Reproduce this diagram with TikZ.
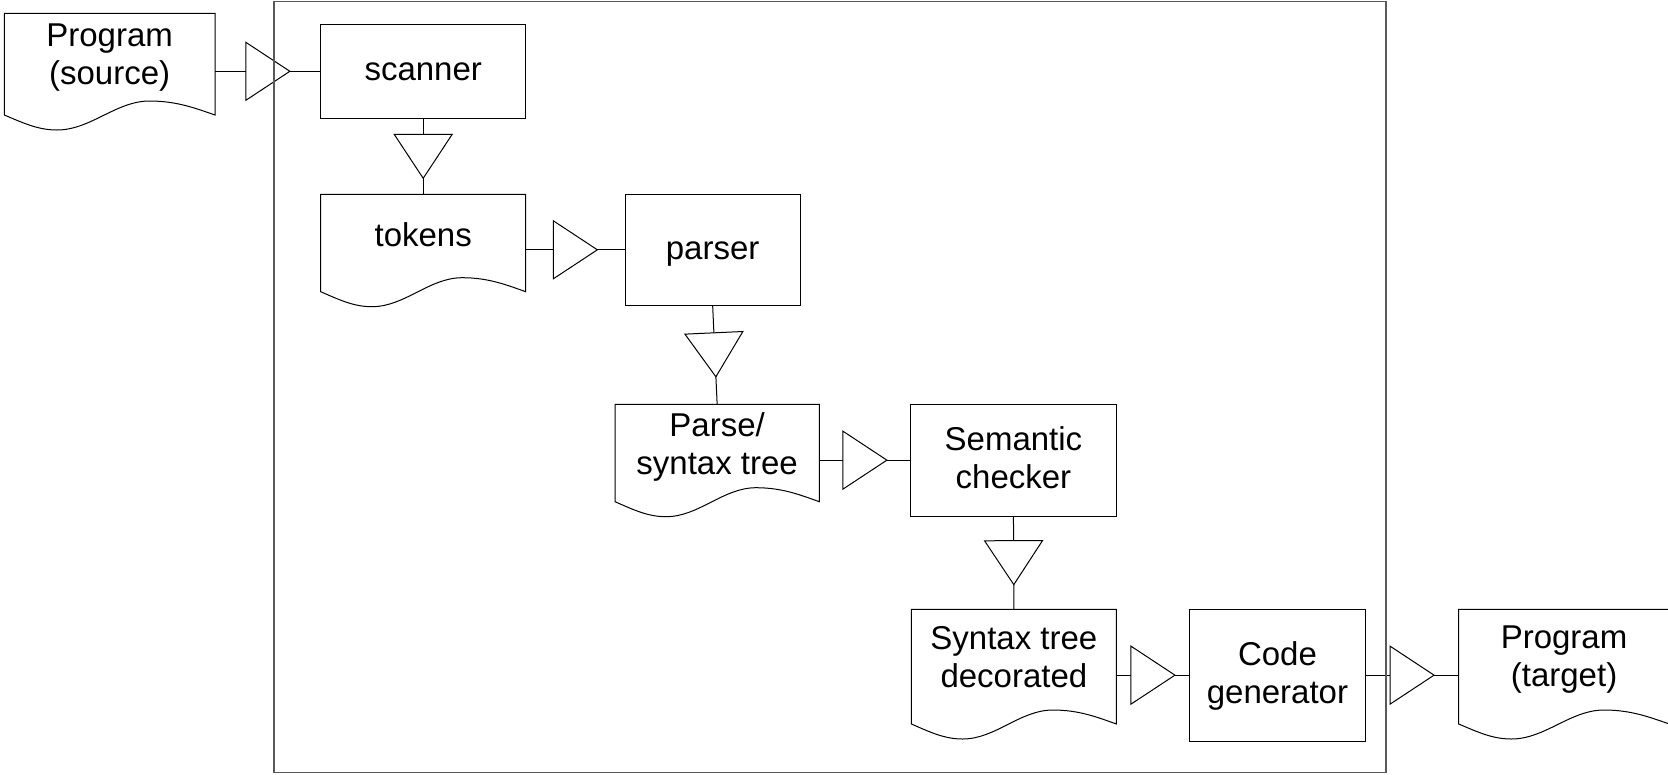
\documentclass[tikz,border=0pt]{standalone}
\usepackage{fontspec}
\setmainfont{Liberation Sans}
\usetikzlibrary{calc}
\newcommand\ls{\rule[-9.5pt]{0pt}{38pt}}
\tikzset{
  every node/.style={inner sep=0pt, outer sep=0pt},
  txt/.style={font=\fontsize{33}{38}\selectfont, align=center},
  procbox/.style={draw, line width=1pt, txt},
  docarea/.style={},
  wire/.style={line width=1pt},
  tri/.style={draw, fill=white, line width=1pt, line join=miter},
  frame/.style={draw=black!65, line width=1.5pt}
}
\newcommand\docoutline[1]{%
  \draw[wire, line join=miter]
  (#1.south west) -- (#1.north west) -- (#1.north east) -- (#1.south east)
  .. controls ($(#1.south west)!0.91!(#1.south east)+(0,-6.5)$) and ($(#1.south west)!0.82!(#1.south east)+(0,-14)$) .. ($(#1.south west)!0.69!(#1.south east)+(0,-14)$)
  .. controls ($(#1.south west)!0.53!(#1.south east)+(0,-14)$) and ($(#1.south west)!0.41!(#1.south east)+(0,15)$) .. ($(#1.south west)!0.25!(#1.south east)+(0,15)$)
  .. controls ($(#1.south west)!0.16!(#1.south east)+(0,15)$) and ($(#1.south west)!0.09!(#1.south east)+(0,8)$) .. (#1.south west) -- cycle;}
\newcommand\conn[2]{%
  \coordinate (cA) at #1;
  \coordinate (cB) at #2;
  \draw[wire] (cA) -- (cB);
  \coordinate (cM) at ($(cA)!0.5!(cB)$);
  \coordinate (cS) at ($(cM)!22pt!(cA)$);
  \coordinate (cT) at ($(cM)!22pt!(cB)$);
  \draw[tri] ($(cS)!29pt!90:(cT)$) -- (cT) -- ($(cS)!29pt!-90:(cT)$) -- cycle;}
\begin{document}
\begin{tikzpicture}[x=1pt, y=-1pt]
\useasboundingbox (0,0) rectangle (1668,774);
\clip (0,0) rectangle (1668,774);
\fill[white] (0,0) rectangle (1668,774);
% document shapes (areas)
\node[docarea, minimum width=210.7pt, minimum height=101.7pt] (src) at (109.65,64.15) {};
\node[docarea, minimum width=205pt, minimum height=97.4pt] (tokens) at (423.2,243) {};
\node[docarea, minimum width=204.3pt, minimum height=97.4pt] (parse) at (717.15,453) {};
\node[docarea, minimum width=205pt, minimum height=114.7pt] (dec) at (1013.9,666.65) {};
\node[docarea, minimum width=210.7pt, minimum height=114.7pt] (tgt) at (1564.05,666.65) {};
\docoutline{src}
\docoutline{tokens}
\docoutline{parse}
\docoutline{dec}
\docoutline{tgt}
\node[txt] (srct) at (109.65,56.4) {\ls Program\\\ls (source)};
\node[txt] (tokenst) at (423.2,236.5) {\ls tokens};
\node[txt] (parset) at (717.15,446.3) {\ls Parse/\\\ls syntax tree};
\node[txt] (dect) at (1013.9,658.8) {\ls Syntax tree\\\ls decorated};
\node[txt] (tgtt) at (1564.05,658) {\ls Program\\\ls (target)};
% process boxes
\node[procbox, minimum width=205pt, minimum height=94pt] (scanner) at (423.2,71.3) {\ls scanner};
\node[procbox, minimum width=175.3pt, minimum height=111pt] (parser) at (712.65,249.8) {\ls parser};
\node[procbox, minimum width=205.9pt, minimum height=111.7pt] (sem) at (1013.45,460.15) {\ls Semantic\\\ls checker};
\node[procbox, minimum width=175.9pt, minimum height=131.7pt] (code) at (1277.45,675.15) {\ls Code\\\ls generator};
% connectors
\conn{(src.east |- scanner.west)}{(scanner.west)}
\conn{(scanner.south)}{(tokens.north)}
\conn{(tokens.east |- parser.west)}{(parser.west)}
\conn{(parser.south)}{(parse.north)}
\conn{(parse.east |- sem.west)}{(sem.west)}
\conn{(sem.south)}{(dec.north)}
\conn{(dec.east |- code.west)}{(code.west)}
\conn{(code.east)}{(code.east -| tgt.west)}
% frame
\node[frame, minimum width=1112pt, minimum height=770.9pt] (compiler) at (830,387.15) {};
\end{tikzpicture}
\end{document}
